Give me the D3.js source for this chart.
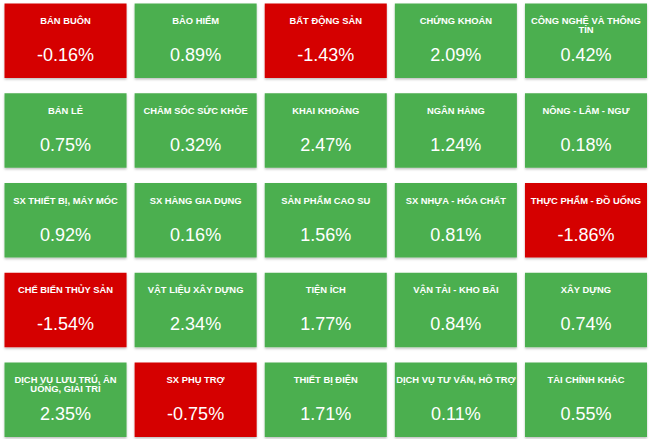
<!DOCTYPE html>
<html>
<head>
<meta charset="utf-8">
<script src="https://cdn.jsdelivr.net/npm/d3@7"></script>
<style>
  body { margin: 0; background: #fff; }
  .tile-title { font-family: "Liberation Sans", Arial, sans-serif; font-weight: bold; fill: #fff; }
  .tile-value { font-family: "Liberation Sans", Arial, sans-serif; fill: #fff; }
</style>
</head>
<body>
<div id="chart"></div>
<script>
var sectors = [
  'BÁN BUÔN', 'BẢO HIỂM', 'BẤT ĐỘNG SẢN', 'CHỨNG KHOÁN', 'CÔNG NGHỆ VÀ THÔNG TIN',
  'BÁN LẺ', 'CHĂM SÓC SỨC KHỎE', 'KHAI KHOÁNG', 'NGÂN HÀNG', 'NÔNG - LÂM - NGƯ',
  'SX THIẾT BỊ, MÁY MÓC', 'SX HÀNG GIA DỤNG', 'SẢN PHẨM CAO SU', 'SX NHỰA - HÓA CHẤT', 'THỰC PHẨM - ĐỒ UỐNG',
  'CHẾ BIẾN THỦY SẢN', 'VẬT LIỆU XÂY DỰNG', 'TIỆN ÍCH', 'VẬN TẢI - KHO BÃI', 'XÂY DỰNG',
  'DỊCH VỤ LƯU TRÚ, ĂN UỐNG, GIẢI TRÍ', 'SX PHỤ TRỢ', 'THIẾT BỊ ĐIỆN', 'DỊCH VỤ TƯ VẤN, HỖ TRỢ', 'TÀI CHÍNH KHÁC'
];
var changes = [
  -0.16, 0.89, -1.43, 2.09, 0.42,
  0.75, 0.32, 2.47, 1.24, 0.18,
  0.92, 0.16, 1.56, 0.81, -1.86,
  -1.54, 2.34, 1.77, 0.84, 0.74,
  2.35, -0.75, 1.71, 0.11, 0.55
];
var nCols = 5;

var cfg = {
    width: 650,
    height: 439,
    left: 4.5,
    right: 3,
    top: 3.5,
    bottom: 2,
    up: '#4caf50',
    down: '#d50000'
};

var data = sectors.map(function (s, i) {
    return { name: s, value: changes[i], col: i % nCols, row: Math.floor(i / nCols) };
});
var nRows = Math.ceil(data.length / nCols);

var x = d3.scaleBand()
    .domain(d3.range(nCols))
    .range([cfg.left, cfg.width - cfg.right])
    .paddingInner(0.062);
var y = d3.scaleBand()
    .domain(d3.range(nRows))
    .range([cfg.top, cfg.height - cfg.bottom])
    .paddingInner(0.17);

var svg = d3.select('#chart').append('svg')
    .attr('width', cfg.width)
    .attr('height', cfg.height);

var defs = svg.append('defs');
var f = defs.append('filter').attr('id', 'shadow')
    .attr('x', '-5%').attr('y', '-5%').attr('width', '110%').attr('height', '120%');
f.append('feDropShadow')
    .attr('dx', 0).attr('dy', 1.5).attr('stdDeviation', 1.2)
    .attr('flood-color', '#000').attr('flood-opacity', 0.25);

var tiles = svg.selectAll('.tile')
    .data(data)
    .enter()
    .append('g')
    .attr('class', 'tile')
    .attr('transform', function (d) { return 'translate(' + x(d.col) + ',' + y(d.row) + ')'; });

tiles.append('rect')
    .attr('width', x.bandwidth())
    .attr('height', y.bandwidth())
    .attr('fill', function (d) { return d.value < 0 ? cfg.down : cfg.up; })
    .attr('filter', 'url(#shadow)');

var locale = d3.formatLocale({ decimal: '.', thousands: ',', grouping: [3], currency: ['', ''], minus: '-' });
var fmt = locale.format('.2f');

tiles.append('text')
    .attr('class', 'tile-value')
    .attr('x', x.bandwidth() / 2)
    .attr('y', 57.5)
    .attr('text-anchor', 'middle')
    .attr('font-size', 18)
    .text(function (d) { return fmt(d.value) + '%'; });

// tiêu đề, tự xuống dòng
var cx = x.bandwidth() / 2;
var maxW = x.bandwidth();
tiles.append('text')
    .attr('class', 'tile-title')
    .attr('x', cx)
    .attr('y', 20.5)
    .attr('text-anchor', 'middle')
    .attr('font-size', 9.4)
    .each(function (d) {
        var t = d3.select(this);
        var words = d.name.split(' ');
        var line = [];
        var tspan = t.append('tspan').attr('x', cx).attr('dy', 0);
        words.forEach(function (w) {
            line.push(w);
            tspan.text(line.join(' '));
            if (tspan.node().getComputedTextLength() > maxW && line.length > 1) {
                line.pop();
                tspan.text(line.join(' '));
                line = [w];
                tspan = t.append('tspan').attr('x', cx).attr('dy', 9).text(w);
            }
        });
    });
</script>
</body>
</html>
